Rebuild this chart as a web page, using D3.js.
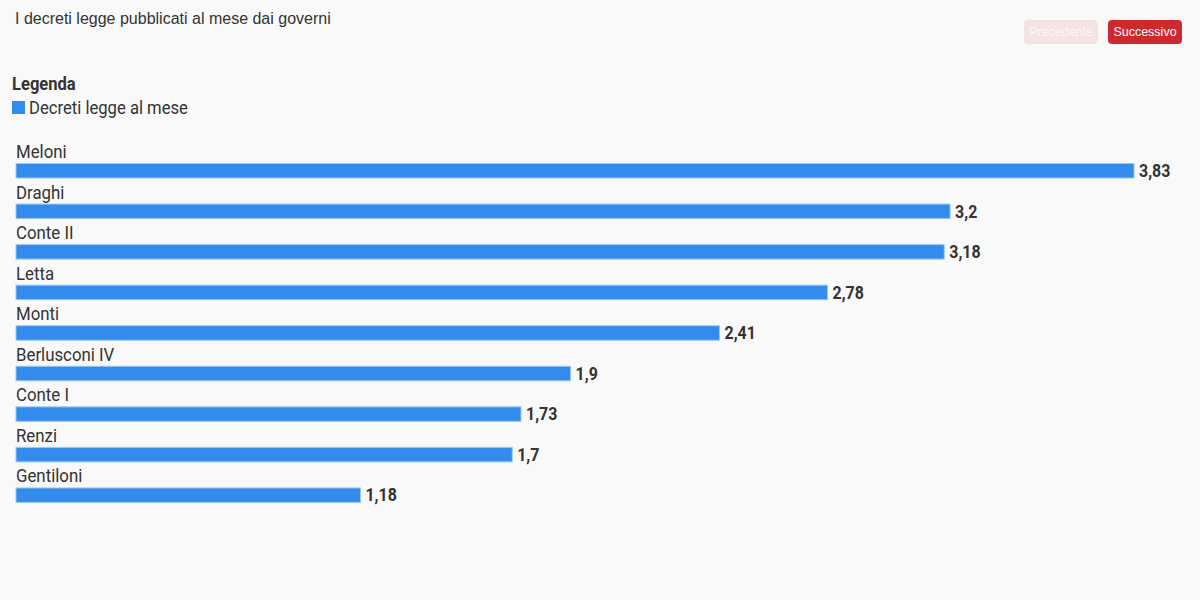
<!DOCTYPE html>
<html><head><meta charset="utf-8">
<script src="https://cdn.jsdelivr.net/npm/d3@7"></script>
<style>
html,body{margin:0;padding:0;background:#f9f9f9;}
svg{display:block;}
</style></head>
<body>
<svg id="c" width="1200" height="600"></svg>
<script>
const categories = ["Meloni","Draghi","Conte II","Letta","Monti","Berlusconi IV","Conte I","Renzi","Gentiloni"];
const values = [3.83,3.2,3.18,2.78,2.41,1.9,1.73,1.7,1.18];
const valueLabels = ["3,83","3,2","3,18","2,78","2,41","1,9","1,73","1,7","1,18"];
const seriesName = "Decreti legge al mese";
const title = "I decreti legge pubblicati al mese dai governi";

const svg = d3.select("#c");
const font = "Roboto, sans-serif";
const blue = "#338ceb";

svg.append("rect").attr("width",1200).attr("height",600).attr("fill","#f9f9f9");

svg.append("text").attr("x",15).attr("y",24).text(title)
  .attr("font-family","'Liberation Sans', Arial, sans-serif").attr("font-size",16).attr("fill","#333");

// buttons
const btns = [{t:"Precedente",x:1024,w:74,bg:"#f5e2e2",fg:"#fdf6f6"},{t:"Successivo",x:1108,w:74,bg:"#d0282f",fg:"#ffffff"}];
btns.forEach(b=>{
  svg.append("rect").attr("x",b.x).attr("y",20).attr("width",b.w).attr("height",24).attr("rx",4).attr("fill",b.bg);
  svg.append("text").attr("x",b.x+b.w/2).attr("y",36).attr("text-anchor","middle").text(b.t)
    .attr("font-family","'Liberation Sans', Arial, sans-serif").attr("font-size",12.5).attr("fill",b.fg);
});

function condText(g, x, y, txt, opts){
  const t = g.append("text").attr("transform",`translate(${x},${y}) scale(${opts.sx||0.93},1)`)
    .attr("font-family",font).attr("font-size",opts.size||18).attr("fill",opts.fill||"#333")
    .attr("font-weight",opts.weight||400).text(txt);
  return t;
}

// legend
condText(svg,12,90,"Legenda",{weight:700,size:18,fill:"#333",sx:0.92});
svg.append("rect").attr("x",12).attr("y",101).attr("width",13).attr("height",13).attr("fill",blue);
condText(svg,29,114,seriesName,{size:18,fill:"#333",sx:0.925});

// bars
const x = d3.scaleLinear().domain([0,3.83]).range([16,1134]);
const y = d3.scaleBand().domain(categories).range([143,508]).paddingInner(0).paddingOuter(0);
const g = svg.append("g");
categories.forEach((c,i)=>{
  const y0 = y(c);
  condText(g,16,y0+15,c,{size:18,fill:"#333",sx:0.935});
  g.append("rect").attr("x",x(0)).attr("y",y0+20.5).attr("width",x(values[i])-x(0)).attr("height",14.5)
    .attr("fill",blue).attr("stroke","#9cc8f5").attr("stroke-width",1);
  condText(g,x(values[i])+5,y0+34,valueLabels[i],{size:18,weight:700,fill:"#333",sx:0.885});
});
</script>
</body></html>
